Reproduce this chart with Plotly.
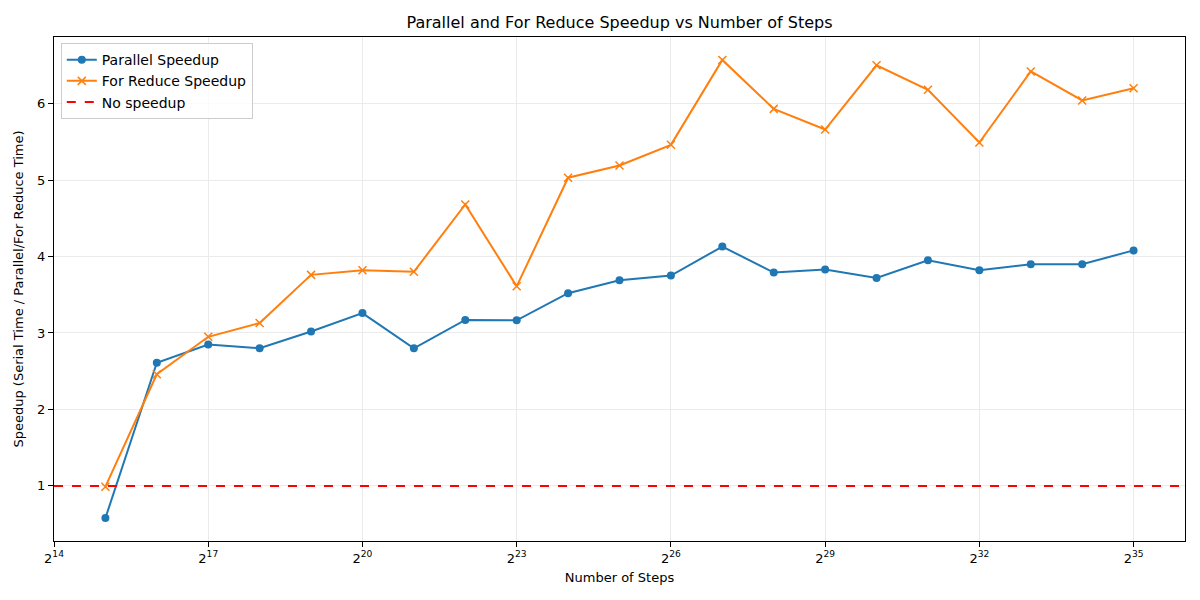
import math
import plotly.graph_objects as go

exponents = list(range(15, 36))
steps = [2 ** e for e in exponents]
parallel_speedup = [0.58, 2.61, 2.85, 2.80, 3.02, 3.26, 2.80, 3.17, 3.165, 3.52, 3.69,
                    3.75, 4.13, 3.79, 3.83, 3.72, 3.95, 3.82, 3.90, 3.90, 4.08]
for_reduce_speedup = [0.99, 2.46, 2.95, 3.13, 3.76, 3.82, 3.80, 4.68, 3.61, 5.03, 5.19,
                      5.46, 6.57, 5.93, 5.66, 6.50, 6.18, 5.49, 6.42, 6.04, 6.20]
tick_exponents = [14, 17, 20, 23, 26, 29, 32, 35]
tick_vals = [2 ** e for e in tick_exponents]
tick_text = [f"2<sup>{e}</sup>" for e in tick_exponents]

LOG2 = math.log10(2)

fig = go.Figure()
fig.add_trace(go.Scatter(
    x=steps, y=parallel_speedup, mode="lines+markers", name="Parallel Speedup",
    line=dict(color="#1f77b4", width=2),
    marker=dict(symbol="circle", size=8, color="#1f77b4"),
))
fig.add_trace(go.Scatter(
    x=steps, y=for_reduce_speedup, mode="lines+markers", name="For Reduce Speedup",
    line=dict(color="#ff7f0e", width=2),
    marker=dict(symbol="x-thin", size=8, color="#ff7f0e", line=dict(width=1.5, color="#ff7f0e")),
))
fig.add_trace(go.Scatter(
    x=[None], y=[None], mode="lines", name="No speedup",
    line=dict(color="red", width=2, dash="dash"),
))
fig.add_hline(y=1, line=dict(color="red", width=2, dash="dash"))

axis_common = dict(
    showline=True, linecolor="black", linewidth=1, mirror=True,
    ticks="outside", ticklen=5, tickcolor="black", tickwidth=1,
    showgrid=True, gridcolor="#ebebeb", gridwidth=1, zeroline=False,
    tickfont=dict(family="DejaVu Sans", size=13, color="black"),
    automargin=False,
)

fig.update_layout(
    width=1200, height=600,
    paper_bgcolor="white", plot_bgcolor="white",
    margin=dict(l=46, r=23, t=29, b=67, autoexpand=False),
    font=dict(family="DejaVu Sans", color="black"),
    title=dict(text="Parallel and For Reduce Speedup vs Number of Steps",
               x=0.5, xanchor="center", xref="paper",
               y=1 - 14 / 600, yanchor="middle", yref="container",
               font=dict(size=16, family="DejaVu Sans", color="black")),
    xaxis=dict(type="log", range=[14 * LOG2, 36 * LOG2],
               tickvals=tick_vals, ticktext=tick_text,
               title=dict(text="Number of Steps", font=dict(size=13), standoff=8),
               **axis_common),
    yaxis=dict(range=[0.28, 6.87], tickvals=[1, 2, 3, 4, 5, 6],
               title=dict(text="Speedup (Serial Time / Parallel/For Reduce Time)", font=dict(size=13), standoff=10),
               **axis_common),
    legend=dict(x=0.006, y=0.988, xanchor="left", yanchor="top",
                bgcolor="rgba(255,255,255,0.8)", bordercolor="#cccccc", borderwidth=1,
                font=dict(size=14, family="DejaVu Sans")),
)

fig.write_html("out.html")
